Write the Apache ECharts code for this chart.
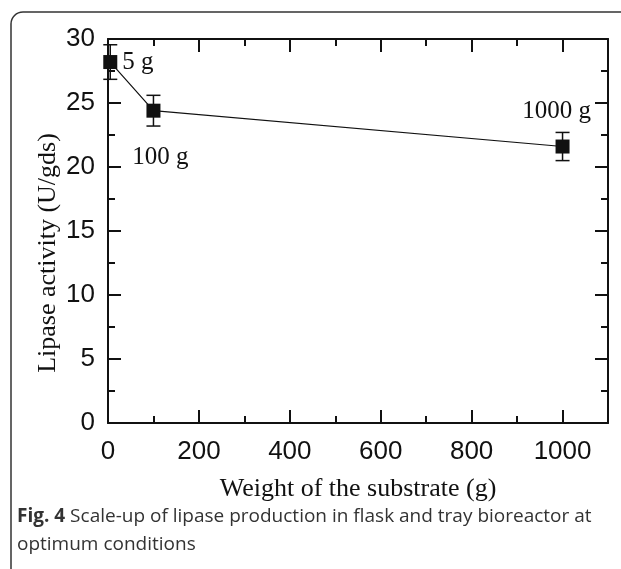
<!DOCTYPE html>
<html>
<head>
<meta charset="utf-8">
<script src="https://cdn.jsdelivr.net/npm/echarts@6/dist/echarts.min.js"></script>
<style>
html,body{margin:0;padding:0;background:#fff;}
#chart{width:621px;height:569px;}
</style>
</head>
<body>
<div id="chart"></div>
<script>
var weights = [5, 100, 1000];
var activity = [28.2, 24.4, 21.6];
var errors = [1.35, 1.2, 1.1];
var pointLabels = ['5 g', '100 g', '1000 g'];
var xTitle = 'Weight of the substrate (g)';
var yTitle = 'Lipase activity (U/gds)';
var captionBold = 'Fig. 4';
var captionLine1 = ' Scale-up of lipase production in flask and tray bioreactor at';
var captionLine2 = 'optimum conditions';

var chart = echarts.init(document.getElementById('chart'));
var serif = '"Liberation Serif", "Times New Roman", serif';
var sans = '"Liberation Sans", Arial, sans-serif';

var pts = weights.map(function (w, i) { return [w, activity[i]]; });
var errData = weights.map(function (w, i) { return [w, activity[i] - errors[i], activity[i] + errors[i]]; });

var labelCfg = [
  { position: 'right', distance: 5, offset: [0, 0] },
  { position: 'bottom', distance: 0, offset: [7, 27] },
  { position: 'top', distance: 0, offset: [-6, -16] }
];

function axisBase() {
  return {
    axisLine: { show: true, onZero: false, lineStyle: { color: '#111', width: 2 } },
    axisTick: { show: true, inside: true, length: 13, lineStyle: { color: '#111', width: 2 } },
    minorTick: { show: true, splitNumber: 2, length: 7, lineStyle: { color: '#111', width: 2 } },
    splitLine: { show: false }
  };
}
function plain(v) { return String(v); }

var xb = Object.assign(axisBase(), {
  type: 'value', min: 0, max: 1100, interval: 200, position: 'bottom',
  axisLabel: { show: true, showMaxLabel: false, margin: 16, formatter: plain, fontFamily: sans, fontSize: 26, color: '#111' }
});
var xt = Object.assign(axisBase(), {
  type: 'value', min: 0, max: 1100, interval: 200, position: 'top',
  axisLabel: { show: false }
});
var yl = Object.assign(axisBase(), {
  type: 'value', min: 0, max: 30, interval: 5, position: 'left',
  axisLabel: { show: true, margin: 13, formatter: plain, fontFamily: sans, fontSize: 26, color: '#111' }
});
var yr = Object.assign(axisBase(), {
  type: 'value', min: 0, max: 30, interval: 5, position: 'right',
  axisLabel: { show: false }
});
xb.name = xTitle;
xb.nameLocation = 'middle';
xb.nameGap = 53;
xb.nameTextStyle = { fontFamily: serif, fontSize: 26, color: '#111', verticalAlign: 'top' };

var option = {
  animation: false,
  backgroundColor: '#fff',
  grid: { left: 108, top: 39, right: 13, bottom: 146 },
  xAxis: [xb, xt],
  yAxis: [yl, yr],
  graphic: [
    { type: 'rect', shape: { x: 11, y: 12, width: 700, height: 700, r: 12 },
      style: { fill: 'none', stroke: '#333', lineWidth: 1.5 }, silent: true },
    { type: 'text', x: 48, y: 253, rotation: Math.PI / 2,
      style: { text: yTitle, font: '26px ' + serif, fill: '#111', textAlign: 'center', textVerticalAlign: 'middle' } },
    { type: 'text', x: 17, y: 517,
      style: { text: '{b|' + captionBold + '}{n|' + captionLine1 + '}', textVerticalAlign: 'middle',
        rich: { b: { fontFamily: '"Open Sans", sans-serif', fontWeight: 'bold', fontSize: 19, fill: '#333' },
                n: { fontFamily: '"Open Sans", sans-serif', fontSize: 19, fill: '#333' } } } },
    { type: 'text', x: 17, y: 545,
      style: { text: captionLine2, font: '19px "Open Sans", sans-serif', fill: '#333', textVerticalAlign: 'middle' } }
  ],
  series: [
    {
      type: 'line', data: pts, symbol: 'none', z: 2, xAxisIndex: 0, yAxisIndex: 0,
      lineStyle: { color: '#111', width: 1.2 }
    },
    {
      type: 'custom', z: 3, xAxisIndex: 0, yAxisIndex: 0,
      data: errData,
      renderItem: function (params, api) {
        var x = api.value(0);
        var lo = api.coord([x, api.value(1)]);
        var hi = api.coord([x, api.value(2)]);
        var hw = 7;
        var st = { stroke: '#111', lineWidth: 1.5 };
        return { type: 'group', children: [
          { type: 'line', shape: { x1: lo[0], y1: lo[1], x2: hi[0], y2: hi[1] }, style: st },
          { type: 'line', shape: { x1: lo[0] - hw, y1: lo[1], x2: lo[0] + hw, y2: lo[1] }, style: st },
          { type: 'line', shape: { x1: hi[0] - hw, y1: hi[1], x2: hi[0] + hw, y2: hi[1] }, style: st }
        ] };
      }
    },
    {
      type: 'scatter', z: 4, symbol: 'rect', symbolSize: 14, xAxisIndex: 0, yAxisIndex: 0,
      itemStyle: { color: '#111', opacity: 1 },
      data: pts.map(function (p, i) {
        return { value: p, label: Object.assign({ show: true, formatter: pointLabels[i],
          fontFamily: serif, fontSize: 25, color: '#111', opacity: 1, textBorderWidth: 0 }, labelCfg[i]) };
      })
    }
  ]
};
chart.setOption(option);
</script>
</body>
</html>
